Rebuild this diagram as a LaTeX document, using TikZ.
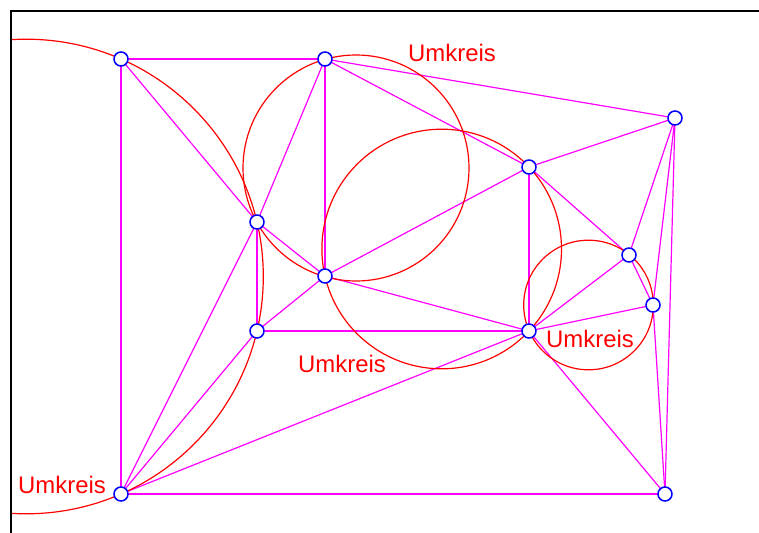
\documentclass[tikz,border=0pt]{standalone}
\usepackage{fontspec}
\setmainfont{Liberation Sans}
\usetikzlibrary{backgrounds}
\definecolor{kantenLila}{RGB}{255,0,255}
\definecolor{kreisRot}{RGB}{255,0,0}
\definecolor{punktBlau}{RGB}{0,0,255}

\begin{document}
\begin{tikzpicture}[x=0.025cm, y=-0.025cm,
  punkt/.style={circle, draw=punktBlau, fill=white, line width=1.1pt,
                minimum size=0.35cm, inner sep=0pt},
  kante/.style={kantenLila, line width=0.85pt},
  umkreis/.style={kreisRot, line width=0.85pt},
  beschr/.style={text=kreisRot, inner sep=0pt, font=\fontsize{17}{20}\selectfont}
]
  \useasboundingbox (0,0) rectangle (759,533);
  \draw[line width=1.4pt] (11,533) -- (11,11) -- (759,11);

  % Punkte der Triangulierung
  \node[punkt] (A) at (121,59)  {};
  \node[punkt] (B) at (325,59)  {};
  \node[punkt] (C) at (675,118) {};
  \node[punkt] (D) at (529,167) {};
  \node[punkt] (E) at (257,222) {};
  \node[punkt] (F) at (325,276) {};
  \node[punkt] (G) at (629,255) {};
  \node[punkt] (H) at (653,305) {};
  \node[punkt] (I) at (257,331) {};
  \node[punkt] (J) at (529,331) {};
  \node[punkt] (K) at (121,494) {};
  \node[punkt] (L) at (665,494) {};

  \begin{scope}[on background layer]
    \clip (11,11) rectangle (759,533);
    \foreach \a/\b in {A/B, A/K, A/E, B/E, B/F, B/D, B/C, C/D, C/G, C/H, C/L,
                       D/F, D/J, D/G, E/F, E/I, E/K, F/I, F/J, I/K, I/J,
                       J/K, J/G, J/H, J/L, K/L, G/H, H/L}
      \draw[kante] (\a.center) -- (\b.center);
    % Umkreise
    \draw[umkreis] (26,276.5) circle[radius=237.3];
    \draw[umkreis] (356,168) circle[radius=113];
    \draw[umkreis] (441.7,249) circle[radius=119.8];
    \draw[umkreis] (588.5,305) circle[radius=64.8];
  \end{scope}

  \node[beschr] (u1) at (452,53)  {Umkreis};
  \node[beschr] (u2) at (342,364) {Umkreis};
  \node[beschr] (u3) at (590,339) {Umkreis};
  \node[beschr] (u4) at (62,485)  {Umkreis};
\end{tikzpicture}
\end{document}
